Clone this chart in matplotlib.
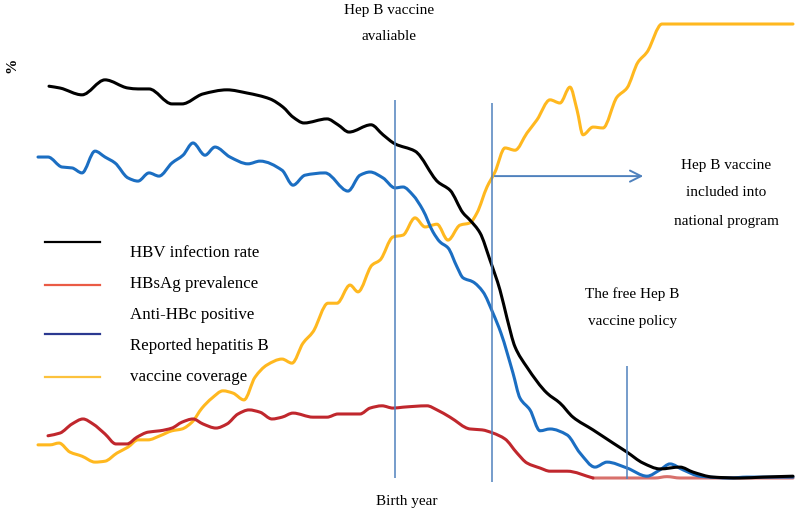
# HBV trends by birth year, with the vaccine milestones marked

import numpy as np
import matplotlib.pyplot as plt
from matplotlib.path import Path
from matplotlib.patches import PathPatch

plt.rcParams['font.family'] = ['Liberation Serif', 'DejaVu Serif']

# x = position along the birth year axis, y = %
hbv_x = [49, 60, 82, 105, 128, 138, 149, 172, 182, 203, 227, 247, 270, 283, 293,
         304, 327, 338, 349, 371, 383, 395, 415, 438, 450, 463, 470, 480, 490,
         500, 507, 515, 527, 547, 560, 573, 593, 613, 627, 643, 660, 680, 693,
         713, 740, 763, 793]
hbv_y = [86.3, 85.9, 84.4, 87.7, 85.9, 85.7, 85.7, 82.4, 82.4, 84.6, 85.5, 84.8,
         83.5, 81.7, 79.5, 78.2, 79.1, 77.8, 76.2, 77.8, 75.6, 73.6, 72.0, 65.2,
         63.4, 58.4, 56.8, 54.0, 48.0, 41.4, 35.2, 28.9, 24.4, 18.7, 16.5, 13.4,
         10.6, 7.7, 5.7, 3.3, 2.0, 2.4, 1.3, 0.2, 0.0, 0.2, 0.4]

hbsag_x = [48, 60, 72, 83, 93, 105, 116, 127, 137, 148, 160, 172, 182, 193, 203,
           216, 227, 238, 249, 260, 272, 282, 293, 313, 327, 338, 360, 370, 382,
           393, 403, 427, 437, 450, 470, 482, 493, 505, 517, 527, 540, 550, 567,
           593, 655, 667, 680, 793]
hbsag_y = [9.3, 9.9, 11.9, 13.0, 11.9, 9.7, 7.5, 7.5, 9.0, 10.1, 10.4, 11.0, 12.3,
           13.0, 11.9, 11.0, 11.9, 14.1, 15.0, 14.5, 13.0, 13.4, 14.3, 13.4, 13.4,
           14.1, 14.1, 15.4, 15.9, 15.4, 15.6, 15.9, 15.0, 13.4, 10.8, 10.6, 9.9,
           8.6, 5.5, 3.3, 2.2, 1.5, 1.5, 0.0, 0.0, 0.3, 0.0, 0.0]

antihbc_x = [38, 48, 62, 72, 82, 95, 105, 115, 128, 138, 149, 159, 172, 183, 193,
             205, 215, 230, 248, 260, 282, 293, 305, 325, 348, 360, 370, 383, 395,
             403, 413, 423, 433, 440, 448, 457, 463, 473, 483, 493, 501, 513, 520,
             530, 540, 550, 567, 580, 595, 607, 627, 647, 660, 670, 683, 700, 730,
             747, 793]
antihbc_y = [70.7, 70.7, 68.5, 68.3, 67.2, 72.0, 70.7, 69.4, 66.1, 65.4, 67.2,
             66.5, 69.4, 71.1, 73.8, 71.1, 72.9, 70.7, 69.2, 69.8, 67.8, 64.5,
             66.7, 67.2, 63.2, 66.7, 67.4, 66.1, 63.9, 64.1, 62.3, 59.0, 54.2,
             52.0, 50.7, 46.5, 44.1, 43.2, 41.0, 36.3, 31.9, 23.1, 17.6, 15.0,
             10.4, 10.8, 9.5, 5.5, 2.4, 3.5, 2.2, 0.4, 1.8, 3.1, 1.8, 0.4, 0.0,
             0.2, 0.2]

coverage_x = [38, 50, 59, 70, 82, 95, 105, 117, 128, 138, 148, 160, 172, 182, 192,
              202, 212, 223, 233, 244, 255, 267, 282, 292, 303, 313, 328, 337, 350,
              358, 372, 380, 393, 403, 415, 425, 437, 448, 460, 470, 477, 487, 495,
              505, 515, 527, 537, 550, 560, 570, 577, 583, 593, 603, 617, 627, 638,
              647, 662, 793]
coverage_y = [7.3, 7.3, 7.7, 5.7, 4.8, 3.5, 3.7, 5.5, 6.8, 8.4, 8.4, 9.3, 10.4,
              10.8, 12.3, 15.4, 17.6, 19.2, 18.7, 17.2, 22.2, 24.9, 26.2, 25.3,
              29.7, 32.2, 38.5, 38.5, 42.5, 41.0, 46.9, 48.0, 53.1, 53.5, 57.3,
              55.3, 55.9, 52.4, 55.7, 56.2, 58.4, 64.1, 67.4, 72.7, 72.2, 76.0,
              78.9, 83.3, 82.6, 86.1, 81.1, 75.6, 77.3, 77.1, 83.9, 85.9, 91.6,
              93.8, 100.0, 100.0]

# vaccine milestones: available, national program, free vaccine policy
event_x = [395, 492, 627]
event_top = [83.3, 82.6, 24.7]
event_bottom = [0.0, -0.9, -0.2]

legend_labels = ["HBV infection rate", "HBsAg prevalence", "Anti-HBc positive",
                 "Reported hepatitis B", "vaccine coverage"]


def smooth_line(ax, xs, ys, **kw):
    """Draw the series as a smoothed line through its points (no overshoot)."""
    x = np.asarray(xs, float)
    y = np.asarray(ys, float)
    h = np.diff(x)
    d = np.diff(y) / h
    m = np.zeros_like(y)
    m[0], m[-1] = d[0], d[-1]
    for k in range(1, len(y) - 1):
        if d[k - 1] * d[k] > 0:
            w1 = 2 * h[k] + h[k - 1]
            w2 = h[k] + 2 * h[k - 1]
            m[k] = (w1 + w2) / (w1 / d[k - 1] + w2 / d[k])
    verts = [(x[0], y[0])]
    codes = [Path.MOVETO]
    for k in range(len(x) - 1):
        t = h[k] / 3
        verts += [(x[k] + t, y[k] + m[k] * t),
                  (x[k + 1] - t, y[k + 1] - m[k + 1] * t),
                  (x[k + 1], y[k + 1])]
        codes += [Path.CURVE4] * 3
    ax.add_patch(PathPatch(Path(verts, codes), fill=False, capstyle='round',
                           joinstyle='round', **kw))


fig = plt.figure(figsize=(8, 5.13), dpi=100)
ax = fig.add_axes([0, 0, 1, 1])
ax.set_xlim(0, 800)
ax.set_ylim(-7.71, 105.29)
ax.axis('off')

lw = 2.2
# the zero tail of HBsAg is drawn lighter in the original
tail = hbsag_x.index(593)
smooth_line(ax, coverage_x, coverage_y, color='#ffb81f', lw=lw)
smooth_line(ax, hbsag_x[tail:], hbsag_y[tail:], color='#d8716c', lw=lw)
smooth_line(ax, hbsag_x[:tail + 1], hbsag_y[:tail + 1], color='#c0272d', lw=lw)
smooth_line(ax, antihbc_x, antihbc_y, color='#1b6ec2', lw=lw)
smooth_line(ax, hbv_x, hbv_y, color='black', lw=lw)

ax.vlines(event_x, event_bottom, event_top, color='#4f81bd', lw=1.1)
ax.annotate("", xy=(646, 66.5), xytext=(event_x[1], 66.5),
            arrowprops=dict(arrowstyle='->,head_length=0.8,head_width=0.4',
                            color='#4f81bd', lw=1.4))

# hand-made legend (lines and labels are not aligned in the original)
leg_lines = [(0.528, 'black'), (0.444, '#ea5b45'), (0.349, '#2b3990'),
             (0.265, '#fcc23d')]
for yy, col in leg_lines:
    ax.plot([0.056, 0.125], [yy, yy], color=col, lw=1.6, transform=ax.transAxes)
label_y = [0.507, 0.447, 0.386, 0.326, 0.266]
for lab, yy in zip(legend_labels, label_y):
    fig.text(0.1625, yy, lab, fontsize=12.2, va='center', ha='left')

fs = 11
fig.text(389 / 800, 1 - 11 / 513, "Hep B vaccine", fontsize=fs, ha='center', va='center')
fig.text(389 / 800, 1 - 36 / 513, "avaliable", fontsize=fs, ha='center', va='center')
fig.text(726 / 800, 1 - 165 / 513, "Hep B vaccine", fontsize=fs, ha='center', va='center')
fig.text(726 / 800, 1 - 193 / 513, "included into", fontsize=fs, ha='center', va='center')
fig.text(726 / 800, 1 - 221 / 513, "national program", fontsize=fs, ha='center', va='center')
fig.text(632 / 800, 1 - 294 / 513, "The free Hep B", fontsize=fs, ha='center', va='center')
fig.text(632 / 800, 1 - 322 / 513, "vaccine policy", fontsize=fs, ha='center', va='center')
fig.text(407 / 800, 1 - 501 / 513, "Birth year", fontsize=fs, ha='center', va='center')
fig.text(12 / 800, 1 - 65 / 513, "%", fontsize=11, fontweight='bold', rotation=90,
         ha='center', va='center')

fig.savefig("out.png", dpi=100)
print("Saved image to out.png")
